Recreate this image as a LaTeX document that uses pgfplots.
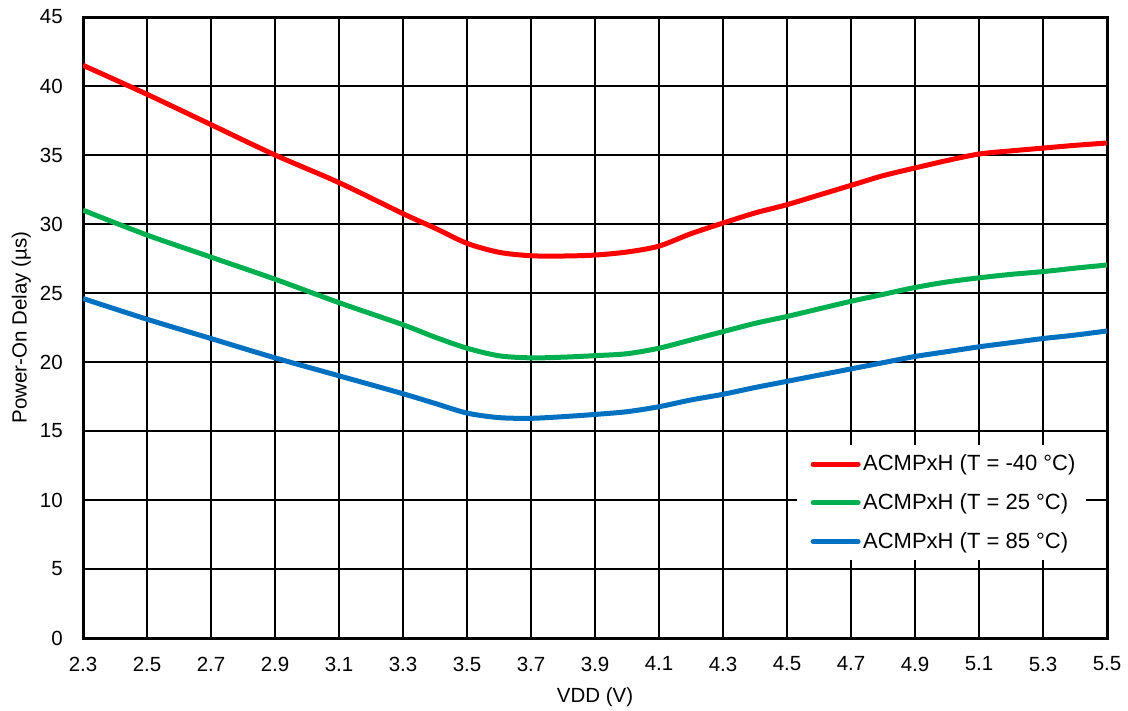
\documentclass[border=0pt]{standalone}
\usepackage{fontspec}
\setmainfont{Liberation Sans}
\usepackage{pgfplots}
\pgfplotsset{compat=1.18}
\definecolor{cRed}{RGB}{255,0,0}
\definecolor{cGreen}{RGB}{0,176,80}
\definecolor{cBlue}{RGB}{0,112,192}
\begin{document}
\begin{tikzpicture}
\begin{axis}[
  name=ax,
  scale only axis,
  width=512pt, height=310.5pt,
  xmin=2.3, xmax=5.5, ymin=0, ymax=45,
  xtick={2.3,2.5,2.7,2.9,3.1,3.3,3.5,3.7,3.9,4.1,4.3,4.5,4.7,4.9,5.1,5.3,5.5},
  ytick={0,5,10,15,20,25,30,35,40,45},
  x tick label style={/pgf/number format/fixed,/pgf/number format/fixed zerofill,/pgf/number format/precision=1, yshift=-5.9pt},
  y tick label style={xshift=-6.6pt},
  /pgf/number format/assume math mode=true,
  tick label style={font=\fontsize{10.25}{12}\selectfont},
  label style={font=\fontsize{10.25}{12}\selectfont},
  grid=major,
  major grid style={black, line width=1pt},
  axis line style={black, line width=1.5pt},
  tick style={draw=none},
  xlabel={VDD (V)},
  ylabel={Power-On Delay (µs)},
  xlabel style={at={(0.5,-0.1035)}, anchor=base},
  ylabel style={at={(-0.055,0.5)}, anchor=base, rotate=0},
  legend style={at={(0.697,0.3108)}, anchor=north west, draw=none, fill=white,
    font=\fontsize{11}{13}\selectfont, row sep=9.9pt, inner xsep=5.5pt, inner ysep=4.6pt,
    nodes={inner sep=0pt},
    /tikz/every even column/.append style={column sep=0.5pt}},
  legend cell align=left,
  legend image code/.code={\path (0pt,0pt) (25pt,0pt); \draw[#1, line width=2.5pt, line cap=round] (1.25pt,0pt) -- (23.75pt,0pt);},
]
\addplot[cRed, line width=2.5pt, smooth, tension=0.5] coordinates {
(2.3,41.5)(2.5,39.4)(2.7,37.2)(2.9,35.0)(3.1,33.0)(3.3,30.75)(3.4,29.7)(3.5,28.6)(3.6,27.95)(3.7,27.7)(3.8,27.68)(3.9,27.75)(4.0,27.97)(4.1,28.4)(4.2,29.3)(4.3,30.07)(4.4,30.8)(4.5,31.4)(4.6,32.1)(4.7,32.8)(4.8,33.5)(4.9,34.06)(5.0,34.6)(5.1,35.07)(5.2,35.3)(5.3,35.5)(5.4,35.7)(5.5,35.87)
};
\addlegendentry{ACMPxH (T = -40 °C)}
\addplot[cGreen, line width=2.5pt, smooth, tension=0.5] coordinates {
(2.3,31.0)(2.5,29.2)(2.7,27.6)(2.9,26.0)(3.1,24.3)(3.3,22.7)(3.4,21.8)(3.5,21.0)(3.6,20.45)(3.7,20.3)(3.8,20.35)(3.9,20.46)(4.0,20.6)(4.1,21.0)(4.2,21.6)(4.3,22.2)(4.4,22.8)(4.5,23.3)(4.6,23.85)(4.7,24.4)(4.8,24.9)(4.9,25.4)(5.0,25.8)(5.1,26.1)(5.2,26.35)(5.3,26.55)(5.4,26.8)(5.5,27.03)
};
\addlegendentry{ACMPxH (T = 25 °C)}
\addplot[cBlue, line width=2.5pt, smooth, tension=0.5] coordinates {
(2.3,24.6)(2.5,23.1)(2.7,21.7)(2.9,20.3)(3.1,19.0)(3.3,17.7)(3.4,17.0)(3.5,16.3)(3.6,15.97)(3.7,15.92)(3.8,16.04)(3.9,16.2)(4.0,16.4)(4.1,16.76)(4.2,17.25)(4.3,17.66)(4.4,18.15)(4.5,18.6)(4.6,19.05)(4.7,19.5)(4.8,19.95)(4.9,20.4)(5.0,20.75)(5.1,21.1)(5.2,21.4)(5.3,21.7)(5.4,21.95)(5.5,22.25)
};
\addlegendentry{ACMPxH (T = 85 °C)}
\end{axis}
\pgfresetboundingbox
\path ([shift={(-41.5pt,-36.5pt)}]ax.south west) rectangle ([shift={(10.5pt,8.5pt)}]ax.north east);
\end{tikzpicture}
\end{document}
